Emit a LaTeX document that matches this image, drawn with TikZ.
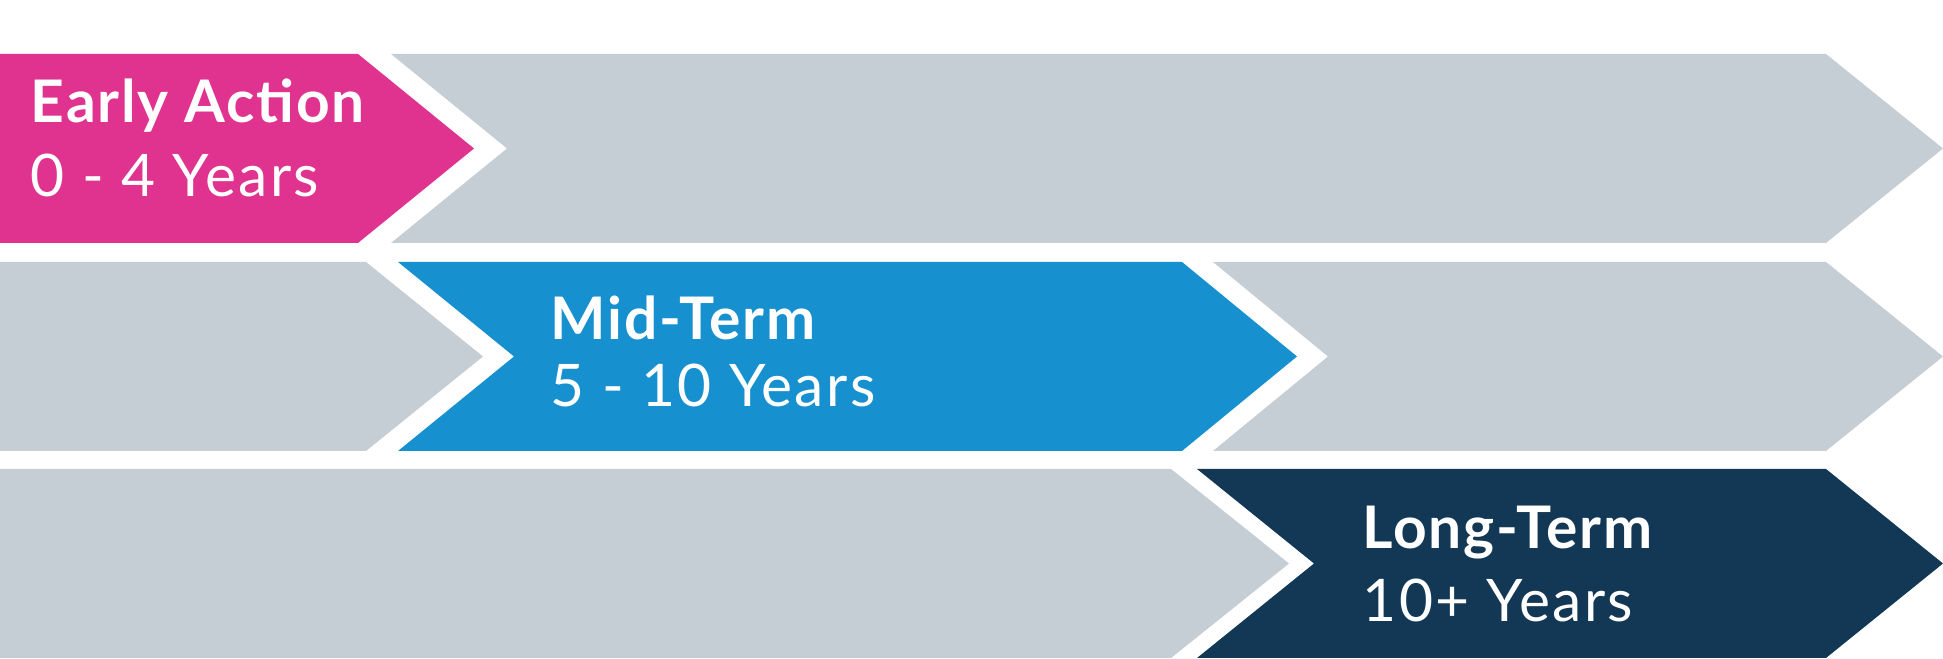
\documentclass[tikz,border=0pt]{standalone}
\usepackage{fontspec}
\setmainfont{Lato}
\usepackage{tikz}
\usetikzlibrary{positioning}
\definecolor{rosa}{HTML}{E0338F}
\definecolor{grigio}{HTML}{C5CDD5}
\definecolor{azzurro}{HTML}{1690CF}
\definecolor{blunotte}{HTML}{123856}
\tikzstyle{fasciagrigia} = [fill=grigio,draw=none]
\tikzstyle{fasciarosa} = [fill=rosa,draw=none]
\tikzstyle{fasciaazzurra} = [fill=azzurro,draw=none]
\tikzstyle{fasciablu} = [fill=blunotte,draw=none]
\tikzstyle{titolo} = [anchor=base west,inner sep=0pt,text=white,font=\fontsize{16.7}{20}\selectfont\bfseries\addfontfeature{LetterSpace=3}]
\tikzstyle{anni} = [anchor=base west,inner sep=0pt,text=white,font=\fontsize{16.7}{20}\selectfont\addfontfeature{LetterSpace=4}]
\begin{document}
\begin{tikzpicture}
\useasboundingbox (0,0) rectangle (19.43,6.59);

% 1cm = 100px

% Early Action
\fill[fasciarosa] (0,6.05) -- (3.58,6.05) -- (4.74,5.105) -- (3.58,4.16) -- (0,4.16) -- cycle;
\fill[fasciagrigia] (3.91,6.05) -- (18.26,6.05) -- (19.43,5.105) -- (18.26,4.16) -- (3.91,4.16) -- (5.07,5.105) -- cycle;

% Mid-Term
\fill[fasciagrigia] (0,3.97) -- (3.66,3.97) -- (4.83,3.025) -- (3.66,2.08) -- (0,2.08) -- cycle;
\fill[fasciaazzurra] (3.98,3.97) -- (11.82,3.97) -- (12.97,3.025) -- (11.82,2.08) -- (3.98,2.08) -- (5.14,3.025) -- cycle;
\fill[fasciagrigia] (12.13,3.97) -- (18.26,3.97) -- (19.43,3.025) -- (18.26,2.08) -- (12.13,2.08) -- (13.28,3.025) -- cycle;

% Long-Term
\fill[fasciagrigia] (0,1.90) -- (11.71,1.90) -- (12.89,0.955) -- (11.71,0.01) -- (0,0.01) -- cycle;
\fill[fasciablu] (11.97,1.90) -- (18.26,1.90) -- (19.43,0.955) -- (18.26,0.01) -- (11.97,0.01) -- (13.14,0.955) -- cycle;

\node (early)    [titolo,xshift=0.30cm,yshift=5.36cm] {Early Action};
\node (earlyyrs) [anni,below=0.74cm of early.base west,anchor=base west] {0 - 4 Years};

\node (mid)      [titolo,xshift=5.50cm,yshift=3.19cm] {Mid-Term};
\node (midyrs)   [anni,below=0.67cm of mid.base west,anchor=base west] {5 - 10 Years};

\node (long)     [titolo,xshift=13.62cm,yshift=1.10cm] {Long-Term};
\node (longyrs)  [anni,below=0.73cm of long.base west,anchor=base west] {10+ Years};
\end{tikzpicture}
\end{document}
